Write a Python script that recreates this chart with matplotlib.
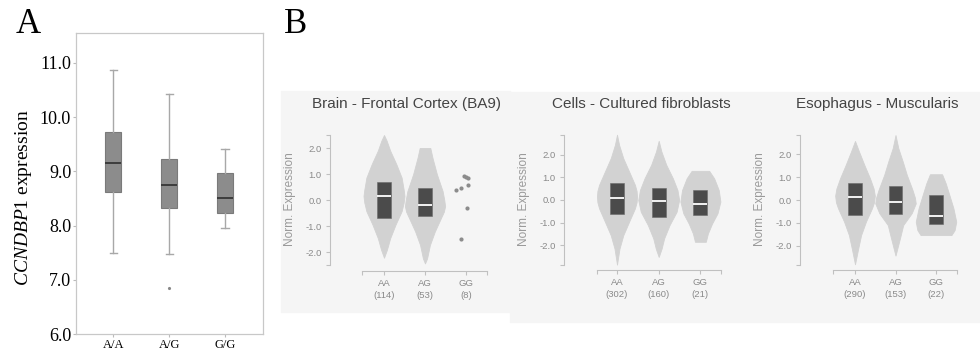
import matplotlib
matplotlib.use('Agg')

import numpy as np
import matplotlib.pyplot as plt
from matplotlib.patches import Rectangle

plt.rcParams['font.family'] = ['Liberation Sans', 'DejaVu Sans']
plt.rcParams['mathtext.fontset'] = 'custom'
plt.rcParams['mathtext.rm'] = 'Liberation Serif'
plt.rcParams['mathtext.it'] = 'Liberation Serif:italic'

# =============================================================================
# Data
# =============================================================================
# Panel A: CCNDBP1 expression by genotype (box plot summary)
a_genotypes = ['A/A', 'A/G', 'G/G']
a_med = [9.16, 8.75, 8.51]
a_q1 = [8.61, 8.32, 8.23]
a_q3 = [9.73, 9.23, 8.96]
a_whislo = [7.49, 7.47, 7.95]
a_whishi = [10.86, 10.43, 9.41]
a_fliers = [[], [6.85], []]
a_yticks = [6.0, 7.0, 8.0, 9.0, 10.0, 11.0]

# Panel B: eQTL violins, three tissues
tissues = ['Brain - Frontal Cortex (BA9)', 'Cells - Cultured fibroblasts',
           'Esophagus - Muscularis']
b_genotypes = ['AA', 'AG', 'GG']
brain_n = [114, 53, 8]
cells_n = [302, 160, 21]
eso_n = [290, 153, 22]
b_yticks = [-2.0, -1.0, 0.0, 1.0, 2.0]

# violin outlines: y positions and half widths
brain_aa_y = [2.50, 2.28, 1.90, 1.38, 0.86, 0.40, 0.15, -0.10, -0.43, -0.95, -1.47, -1.92, -2.22]
brain_aa_w = [0.0, 0.065, 0.15, 0.30, 0.43, 0.48, 0.50, 0.48, 0.43, 0.28, 0.15, 0.07, 0.0]
brain_ag_y = [2.00, 1.64, 0.99, 0.34, 0.0, -0.24, -0.45, -0.69, -1.21, -1.73, -2.25, -2.44]
brain_ag_w = [0.13, 0.18, 0.29, 0.43, 0.47, 0.49, 0.46, 0.39, 0.24, 0.12, 0.05, 0.0]

cells_aa_y = [2.89, 2.44, 1.85, 1.26, 0.67, 0.40, 0.15, -0.10, -0.37, -0.96, -1.56, -2.15, -2.86]
cells_aa_w = [0.0, 0.05, 0.15, 0.29, 0.43, 0.47, 0.48, 0.47, 0.43, 0.29, 0.15, 0.06, 0.0]
cells_ag_y = [2.62, 2.15, 1.56, 0.96, 0.44, 0.0, -0.52, -1.11, -1.70, -2.15, -2.52]
cells_ag_w = [0.0, 0.064, 0.18, 0.34, 0.45, 0.49, 0.43, 0.26, 0.13, 0.07, 0.0]
cells_gg_y = [1.29, 0.96, 0.44, -0.07, -0.59, -1.04, -1.48, -1.85]
cells_gg_w = [0.21, 0.33, 0.44, 0.48, 0.41, 0.28, 0.18, 0.13]

eso_aa_y = [2.59, 2.12, 1.54, 0.95, 0.50, 0.19, -0.10, -0.36, -0.95, -1.54, -2.12, -2.82]
eso_aa_w = [0.0, 0.10, 0.23, 0.37, 0.46, 0.49, 0.47, 0.42, 0.27, 0.15, 0.08, 0.0]
eso_ag_y = [2.85, 2.27, 1.68, 1.10, 0.44, 0.10, -0.15, -0.58, -1.10, -1.68, -2.44]
eso_ag_w = [0.0, 0.07, 0.18, 0.28, 0.42, 0.48, 0.50, 0.40, 0.19, 0.11, 0.0]
eso_gg_y = [1.13, 0.73, 0.22, -0.36, -0.95, -1.32, -1.54]
eso_gg_w = [0.15, 0.24, 0.33, 0.43, 0.50, 0.46, 0.38]

# inner boxes (interquartile range + median)
brain_q1 = [-0.68, -0.63]
brain_q3 = [0.71, 0.45]
brain_med = [0.14, -0.20]
cells_q1 = [-0.64, -0.76, -0.67]
cells_q3 = [0.77, 0.55, 0.43]
cells_med = [0.10, -0.04, -0.19]
eso_q1 = [-0.66, -0.61, -1.05]
eso_q3 = [0.73, 0.61, 0.22]
eso_med = [0.12, -0.07, -0.69]

# brain GG has too few samples for a violin: individual points
brain_gg_x = [1.76, 1.88, 1.96, 2.01, 2.06, 2.04, 2.02, 1.88]
brain_gg_y = [0.38, 0.47, 0.93, 0.90, 0.83, 0.58, -0.30, -1.50]

# =============================================================================
# Figure
# =============================================================================
W, H = 980, 354
fig = plt.figure(figsize=(W / 100, H / 100), dpi=100)
fig.patch.set_facecolor('white')


def px_axes(x0, y0, x1, y1):
    return fig.add_axes([x0 / W, 1 - y1 / H, (x1 - x0) / W, (y1 - y0) / H])


def px_text(x, y, s, **kw):
    return fig.text(x / W, 1 - y / H, s, **kw)


# backgrounds of the panel B screenshots
fig.patches.append(Rectangle((281 / W, 1 - 312 / H), (510 - 281) / W, (312 - 91) / H,
                             transform=fig.transFigure, color='#f5f5f5', zorder=-5))
fig.patches.append(Rectangle((510 / W, 1 - 322 / H), (W - 510) / W, (322 - 92) / H,
                             transform=fig.transFigure, color='#f5f5f5', zorder=-5))

# -----------------------------------------------------------------------------
# Panel A
# -----------------------------------------------------------------------------
serif = 'Liberation Serif'
axA = px_axes(76, 33, 263, 334)
stats = []
for i in range(3):
    stats.append(dict(med=a_med[i], q1=a_q1[i], q3=a_q3[i],
                      whislo=a_whislo[i], whishi=a_whishi[i], fliers=a_fliers[i]))
axA.bxp(stats, positions=[1, 2, 3], widths=0.28, capwidths=0.13, patch_artist=True,
        boxprops=dict(facecolor='#8c8c8c', edgecolor='#7a7a7a', linewidth=0.8),
        medianprops=dict(color='#3c3c3c', linewidth=1.4),
        whiskerprops=dict(color='#a8a8a8', linewidth=1.0),
        capprops=dict(color='#a8a8a8', linewidth=1.0),
        flierprops=dict(marker='.', markersize=2.5, markerfacecolor='#888888',
                        markeredgecolor='#888888'))
axA.set_xlim(0.333, 3.68)
axA.set_ylim(6.0, 11.55)
axA.set_yticks(a_yticks)
axA.set_yticklabels(['%.1f' % v for v in a_yticks], fontfamily=serif, fontsize=13)
axA.set_xticks([1, 2, 3])
axA.set_xticklabels(a_genotypes, fontfamily=serif, fontsize=9)
axA.tick_params(axis='y', length=2, pad=1.5, color='#bbbbbb')
axA.tick_params(axis='x', length=2.5, pad=1, color='#bbbbbb')
for sp in axA.spines.values():
    sp.set_color('#c8c8c8')
    sp.set_linewidth(0.9)
px_text(24, 198, r'$\mathit{CCNDBP1}$ expression', fontfamily=serif, fontsize=14,
        rotation=90, ha='center', va='center')

px_text(16, 33, 'A', fontfamily=serif, fontsize=25, ha='left', va='baseline')
px_text(284, 33, 'B', fontfamily=serif, fontsize=25, ha='left', va='baseline')

# -----------------------------------------------------------------------------
# Panel B
# -----------------------------------------------------------------------------
violin_c = '#d2d2d2'
box_c = '#4b4b4b'
axis_c = '#c0c0c0'
label_c = '#8a8a8a'

panels = [
    dict(title=tissues[0], n=brain_n, spine_x=330, axis_y=271, x_first=384, dx=41.0,
         zero=200, unit=26.0, xl=362, xr=487, title_x=406,
         violins=[(brain_aa_y, brain_aa_w), (brain_ag_y, brain_ag_w)],
         q1=brain_q1, q3=brain_q3, med=brain_med),
    dict(title=tissues[1], n=cells_n, spine_x=564, axis_y=270, x_first=617, dx=41.7,
         zero=200, unit=22.6, xl=597, xr=721, title_x=641,
         violins=[(cells_aa_y, cells_aa_w), (cells_ag_y, cells_ag_w),
                  (cells_gg_y, cells_gg_w)],
         q1=cells_q1, q3=cells_q3, med=cells_med),
    dict(title=tissues[2], n=eso_n, spine_x=800, axis_y=270, x_first=855, dx=40.5,
         zero=200, unit=22.8, xl=833, xr=957, title_x=877,
         violins=[(eso_aa_y, eso_aa_w), (eso_ag_y, eso_ag_w), (eso_gg_y, eso_gg_w)],
         q1=eso_q1, q3=eso_q3, med=eso_med),
]

top_px, bot_px = 135, 265
for p in panels:
    ax = px_axes(p['spine_x'], top_px, p['xr'], p['axis_y'])
    ax.set_facecolor('none')
    xmin = (p['spine_x'] - p['x_first']) / p['dx']
    xmax = (p['xr'] - p['x_first']) / p['dx']
    ymax = (p['zero'] - top_px) / p['unit']
    ymin = -(p['axis_y'] - p['zero']) / p['unit']
    ax.set_xlim(xmin, xmax)
    ax.set_ylim(ymin, ymax)

    for i, (vy, vw) in enumerate(p['violins']):
        vy = np.array(vy)
        vw = np.array(vw)
        ax.fill_betweenx(vy, i - vw, i + vw, color=violin_c, lw=0.6,
                         edgecolor=violin_c, joinstyle='round', clip_on=False)

    for i in range(len(p['q1'])):
        ax.bar(i, p['q3'][i] - p['q1'][i], bottom=p['q1'][i], width=0.34,
               color=box_c, edgecolor='#6a6a6a', linewidth=0.4, zorder=3)
        ax.hlines(p['med'][i], i - 0.17, i + 0.17, color='white', lw=1.3, zorder=4)

    if p['title'] == tissues[0]:
        ax.scatter(brain_gg_x, brain_gg_y, s=9, color='#8c8c8c', lw=0, zorder=3)

    # d3-style axes: detached spines with end ticks
    for side in ('top', 'right'):
        ax.spines[side].set_visible(False)
    y_lo = -(bot_px - p['zero']) / p['unit']
    x_lo = (p['xl'] - p['x_first']) / p['dx']
    ax.spines['left'].set_bounds(y_lo, ymax)
    ax.spines['bottom'].set_bounds(x_lo, xmax)
    for side in ('left', 'bottom'):
        ax.spines[side].set_color(axis_c)
        ax.spines[side].set_linewidth(0.8)

    ax.set_yticks(b_yticks)
    ax.set_yticklabels(['%.1f' % v for v in b_yticks])
    ax.set_yticks([y_lo, ymax], minor=True)
    ax.set_xticks([0, 1, 2])
    ax.set_xticklabels(['%s\n(%d)' % (g, n) for g, n in zip(b_genotypes, p['n'])],
                       linespacing=1.5)
    ax.set_xticks([x_lo, xmax], minor=True)
    ax.tick_params(which='both', length=3, width=0.8, color=axis_c,
                   labelcolor=label_c, labelsize=6.8)
    ax.tick_params(axis='y', pad=3)
    ax.tick_params(axis='x', pad=2.5)

    px_text(p['spine_x'] - 40, 199, 'Norm. Expression', rotation=90, fontsize=8.5,
            color='#9a9a9a', ha='center', va='center')
    px_text(p['title_x'], 104, p['title'], fontsize=11, color='#444444',
            ha='center', va='center')

fig.savefig('out.png', dpi=100)
plt.close(fig)
